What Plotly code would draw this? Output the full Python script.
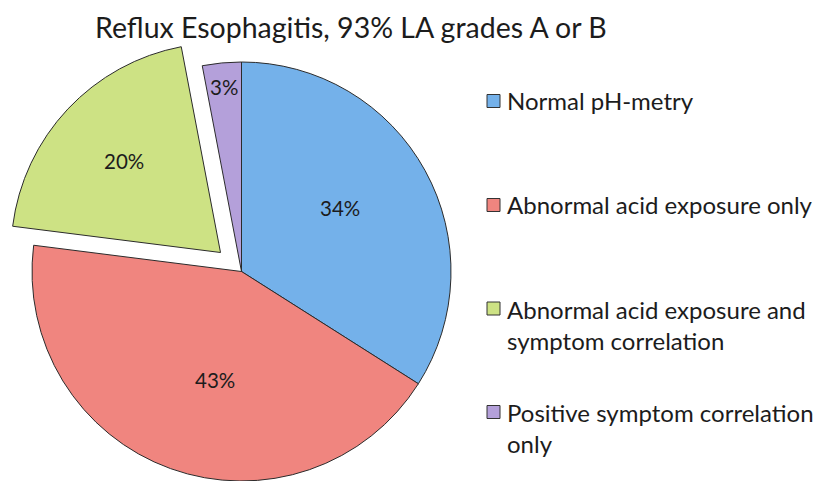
import math
import plotly.graph_objects as go

title_text = "Reflux Esophagitis, 93% LA grades A or B"
categories = ["Normal pH-metry", "Abnormal acid exposure only",
              "Abnormal acid exposure and<br>symptom correlation",
              "Positive symptom correlation<br>only"]
values = [34, 43, 20, 3]
colors = ["#74b1ea", "#f0857f", "#cde284", "#b4a0da"]
pulled = [False, False, True, False]

W, H = 818, 481
FONT = "Lato"
TXT = "#1c1c1c"

# pie geometry (pixels)
cx, cy, r = 241.5, 271.5, 209.5
pull_dx, pull_dy = -21.0, -19.0

def dom(cx_, cy_, r_):
    return dict(x=[(cx_ - r_) / W, (cx_ + r_) / W],
                y=[max(0, 1 - (cy_ + r_) / H), 1 - (cy_ - r_) / H])

clear = "rgba(0,0,0,0)"
fig = go.Figure()
fig.add_trace(go.Pie(
    labels=categories, values=values, sort=False, direction="clockwise", rotation=0,
    marker=dict(colors=[clear if p else c for c, p in zip(colors, pulled)],
                line=dict(color=[clear if p else "#2b2b2b" for p in pulled], width=1)),
    textinfo="none", hoverinfo="label+percent", showlegend=False,
    domain=dom(cx, cy, r)))
fig.add_trace(go.Pie(
    labels=categories, values=values, sort=False, direction="clockwise", rotation=0,
    marker=dict(colors=[c if p else clear for c, p in zip(colors, pulled)],
                line=dict(color=["#2b2b2b" if p else clear for p in pulled], width=1)),
    textinfo="none", hoverinfo="label+percent", showlegend=False,
    domain=dom(cx + pull_dx, cy + pull_dy, r)))

# percentage labels
label_frac = [0.56, 0.533, 0.635, 0.883]
label_ang_adj = [-4, -6, 0, 0]
annotations = []
total = sum(values)
cum = 0
for v, p, f, adj in zip(values, pulled, label_frac, label_ang_adj):
    mid = (cum + v / 2) / total * 360 + adj
    cum += v
    ox, oy = (cx + pull_dx, cy + pull_dy) if p else (cx, cy)
    px = ox + f * r * math.sin(math.radians(mid))
    py = oy - f * r * math.cos(math.radians(mid))
    annotations.append(dict(x=px / W, y=1 - py / H, xref="paper", yref="paper",
                            xanchor="center", yanchor="middle",
                            text=f"{round(v / total * 100)}%", showarrow=False,
                            font=dict(family=FONT, size=20.5, color=TXT)))

# legend
legend_y = [101, 205, 324.5, 428]
shapes = []
for c, name, ly in zip(colors, categories, legend_y):
    sy = ly if "<br>" not in name else ly - 16
    shapes.append(dict(type="rect", xref="paper", yref="paper",
                       x0=487 / W, x1=500 / W, y0=1 - (sy + 6.5) / H, y1=1 - (sy - 6.5) / H,
                       fillcolor=c, line=dict(color="#333333", width=1)))
    annotations.append(dict(x=505 / W, y=1 - ly / H, xref="paper", yref="paper",
                            xanchor="left", yanchor="middle", align="left",
                            text=name, showarrow=False,
                            font=dict(family=FONT, size=24, color=TXT)))

annotations.append(dict(x=351 / W, y=1 - 27 / H, xref="paper", yref="paper",
                        xanchor="center", yanchor="middle",
                        text=title_text, showarrow=False,
                        font=dict(family=FONT, size=28.5, color=TXT)))

fig.update_layout(width=W, height=H, margin=dict(l=0, r=0, t=0, b=0),
                  paper_bgcolor="white", plot_bgcolor="white",
                  annotations=annotations, shapes=shapes, showlegend=False)
fig.write_html("out.html", config={"displayModeBar": False},
               post_script="document.body.style.margin='0px';")
